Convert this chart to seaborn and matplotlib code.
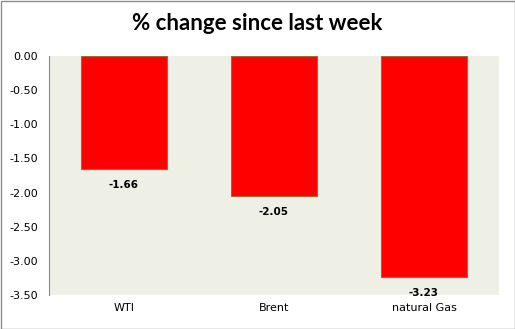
import matplotlib
matplotlib.use("Agg")
import matplotlib.pyplot as plt
import seaborn as sns
import pandas as pd
from matplotlib.patches import Rectangle

categories = ["WTI", "Brent", "natural Gas"]
values = [-1.66, -2.05, -3.23]
yticks = [0.0, -0.5, -1.0, -1.5, -2.0, -2.5, -3.0, -3.5]
title = "% change since last week"

sns.set_style("white")
plt.rcParams['font.family'] = ['DejaVu Sans']
plt.rcParams['text.color'] = 'black'

df = pd.DataFrame({"cat": categories, "val": values})

fig = plt.figure(figsize=(5.15, 3.29), dpi=100)
ax = fig.add_axes([49/515, 1 - 295/329, 450/515, (295 - 56)/329])
ax.set_facecolor("#EEF0E6")

sns.barplot(data=df, x="cat", y="val", ax=ax, color="#FF0000", width=0.57,
            saturation=1, edgecolor="#9C6B3C", linewidth=0.8)

ax.set_ylim(-3.5, 0)
ax.set_xlim(-0.5, 2.5)
ax.set_yticks(yticks)
ax.set_yticklabels([f"{v:.2f}" for v in yticks], fontsize=8)
ax.tick_params(axis="both", length=0, pad=8, labelcolor="black")
ax.tick_params(axis="x", pad=6)
ax.set_xticks(range(len(categories)))
ax.set_xticklabels(categories, fontsize=8)
ax.set_xlabel("")
ax.set_ylabel("")
for s in ["top", "right", "bottom"]:
    ax.spines[s].set_visible(False)
ax.spines["left"].set_color("#8C8C8C")
ax.spines["left"].set_linewidth(0.8)

for i, v in enumerate(values):
    ax.annotate(f"{v:.2f}", (i, v), xytext=(0, -8), textcoords="offset points",
                ha="center", va="top", fontsize=7.5, fontweight="bold", color="black")

fig.text(0.5, 1 - 24/329, title, ha="center", va="center", fontsize=16,
         fontweight="bold", family=["Lato", "DejaVu Sans"], color="black")

fig.patches.append(Rectangle((0.5/515, 0.5/329), 1 - 1/515, 1 - 1/329, transform=fig.transFigure,
                             fill=False, edgecolor="#8C8C8C", linewidth=1))

fig.savefig("out.png", dpi=100)
